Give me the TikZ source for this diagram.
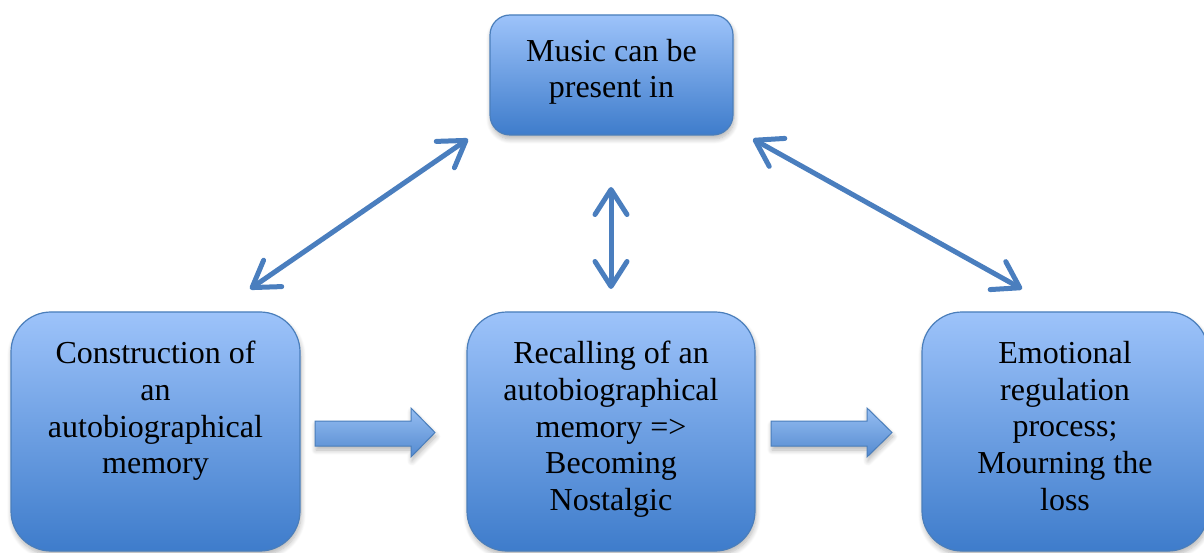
\documentclass[tikz,border=0pt]{standalone}
\usepackage{fontspec}
\setmainfont{Liberation Serif}
\usetikzlibrary{arrows.meta,shadows.blur}
\definecolor{boxtop}{RGB}{157,195,250}
\definecolor{boxbot}{RGB}{62,124,203}
\definecolor{boxline}{RGB}{74,126,187}
\definecolor{arrowblue}{RGB}{74,126,190}
\definecolor{blocktop}{RGB}{150,190,242}
\definecolor{blockbot}{RGB}{84,138,208}
\begin{document}
\begin{tikzpicture}[x=1pt,y=1pt,
  softshadow/.style={blur shadow={shadow xshift=1pt,shadow yshift=-4pt,shadow opacity=30,shadow blur steps=8,shadow blur radius=5pt}},
  box/.style={draw=boxline, line width=1.2pt, top color=boxtop, bottom color=boxbot, inner sep=0pt, rectangle, softshadow},
  topbox/.style={box, rounded corners=20pt, minimum width=243pt, minimum height=120pt},
  bigbox/.style={box, rounded corners=40pt, minimum width=289pt, minimum height=239pt},
  boxtext/.style={anchor=north, inner sep=0pt, align=center, font=\fontsize{32}{36.7}\selectfont, text=black},
  link/.style={draw=arrowblue, line width=5pt, line cap=round,
    {Straight Barb[length=25pt,width=32pt,round]}-{Straight Barb[length=25pt,width=32pt,round]}},
  blockarrow/.style={draw=boxline, line width=1pt, top color=blocktop, bottom color=blockbot, softshadow}
]
\useasboundingbox (0,0) rectangle (1204,552);
\clip (0,0) rectangle (1204,552);

% boxes
\node[topbox] (top) at (611.5,477) {};
\node[bigbox] (left) at (155.5,120.5) {};
\node[bigbox, minimum width=288pt] (mid) at (611,120.5) {};
\node[bigbox, minimum width=286pt] (right) at (1065,120.5) {};

% texts
\node[boxtext, font=\fontsize{32}{36}\selectfont] (ttop) at (611.5,513) {Music can be\\present in};
\node[boxtext] (tleft) at (155.5,211) {Construction of\\an\\autobiographical\\memory};
\node[boxtext] (tmid) at (611,211) {Recalling of an\\autobiographical\\memory =>\\Becoming\\Nostalgic};
\node[boxtext] (tright) at (1065,211) {Emotional\\regulation\\process;\\Mourning the\\loss};

% block arrows
\path[blockarrow] (315,131) -- (411,131) -- (411,144) -- (435,119.5) -- (411,95) -- (411,106) -- (315,106) -- cycle;
\path[blockarrow] (771,131) -- (867,131) -- (867,144) -- (892,119.5) -- (867,95) -- (867,106) -- (771,106) -- cycle;

% double-headed links
\coordinate (a1) at (468,413);
\coordinate (a2) at (250,263);
\coordinate (b1) at (611,365);
\coordinate (b2) at (611,263);
\coordinate (c1) at (753,413);
\coordinate (c2) at (1022,263);
\draw[link] (a1) -- (a2);
\draw[link] (b1) -- (b2);
\draw[link] (c1) -- (c2);
\end{tikzpicture}
\end{document}
